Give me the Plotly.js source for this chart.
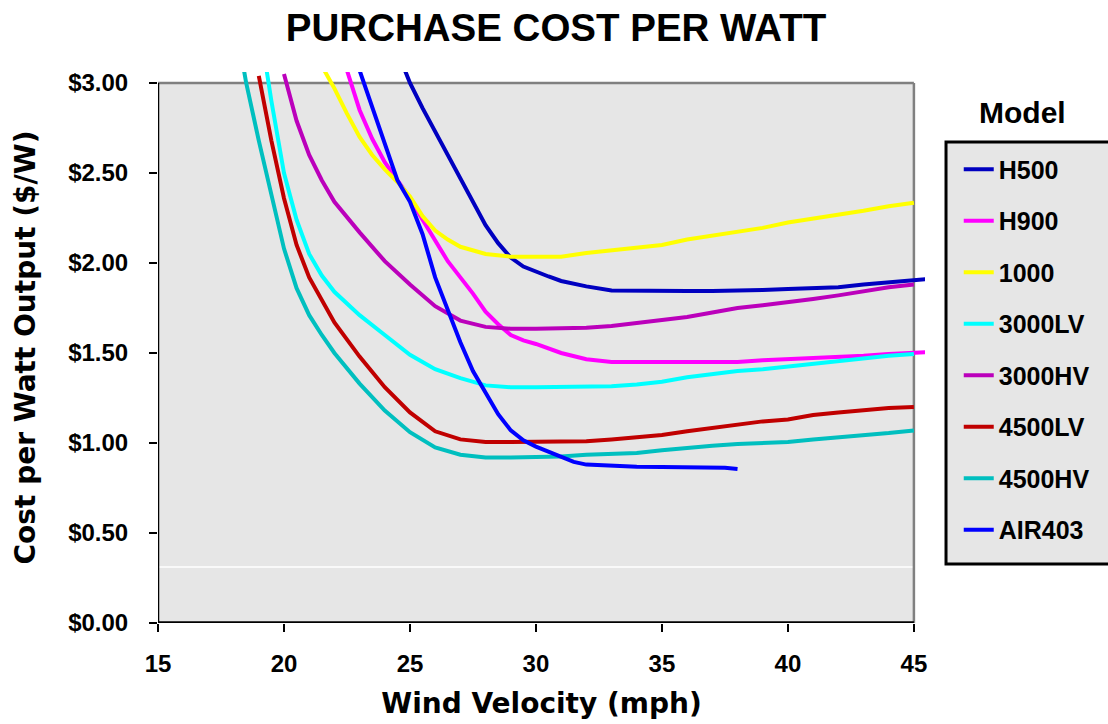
<!DOCTYPE html>
<html>
<head>
<meta charset="utf-8">
<script src="https://cdn.plot.ly/plotly-3.0.1.min.js"></script>
<style>
  html, body { margin: 0; padding: 0; background: #ffffff; }
  #chart { width: 1108px; height: 724px; }
</style>
</head>
<body>
<div id="chart"></div>
<script>
// Purchase cost per watt of output ($/W) against wind velocity (mph), per turbine model.
const modelNames = ['H500', 'H900', '1000', '3000LV', '3000HV', '4500LV', '4500HV', 'AIR403'];
const modelColors = ['#0000C0', '#FF00FF', '#FFFF00', '#00FFFF', '#BB00BB', '#C00000', '#00BFBF', '#0000FF'];

const h500X = [24.8, 25, 25.5, 26, 26.5, 27, 27.5, 28, 28.5, 29, 29.5, 30, 30.5, 31, 32, 33, 34, 35, 36, 37, 38, 39, 40, 41, 42, 43, 44, 45, 45.5];
const h500Y = [3.07, 3.00, 2.86, 2.73, 2.60, 2.46, 2.33, 2.21, 2.11, 2.03, 1.98, 1.95, 1.925, 1.90, 1.87, 1.847, 1.845, 1.845, 1.845, 1.845, 1.845, 1.85, 1.855, 1.86, 1.865, 1.88, 1.89, 1.90, 1.91];

const h900X = [22.5, 23, 23.5, 24, 24.5, 25, 25.5, 26, 26.5, 27, 27.5, 28, 28.5, 29, 29.5, 30, 31, 32, 33, 34, 35, 36, 37, 38, 39, 40, 41, 42, 43, 44, 45, 45.5];
const h900Y = [3.07, 2.85, 2.69, 2.56, 2.46, 2.36, 2.24, 2.12, 2.01, 1.92, 1.83, 1.73, 1.66, 1.60, 1.57, 1.55, 1.50, 1.465, 1.45, 1.45, 1.45, 1.45, 1.45, 1.45, 1.46, 1.465, 1.47, 1.475, 1.485, 1.495, 1.50, 1.505];

const m1000X = [21.6, 22, 22.5, 23, 23.5, 24, 24.5, 25, 25.5, 26, 26.5, 27, 28, 29, 30, 31, 32, 33, 34, 35, 36, 37, 38, 39, 40, 41, 42, 43, 44, 45];
const m1000Y = [3.07, 2.97, 2.83, 2.70, 2.60, 2.52, 2.45, 2.37, 2.26, 2.18, 2.13, 2.09, 2.05, 2.035, 2.035, 2.035, 2.055, 2.07, 2.085, 2.10, 2.13, 2.15, 2.175, 2.195, 2.225, 2.245, 2.27, 2.29, 2.315, 2.335];

const m3000lvX = [19.3, 19.5, 20, 20.5, 21, 21.5, 22, 23, 24, 25, 26, 27, 28, 29, 30, 31, 32, 33, 34, 35, 36, 37, 38, 39, 40, 41, 42, 43, 44, 45];
const m3000lvY = [3.08, 2.90, 2.50, 2.24, 2.05, 1.93, 1.84, 1.71, 1.60, 1.49, 1.41, 1.36, 1.32, 1.31, 1.31, 1.31, 1.31, 1.315, 1.325, 1.34, 1.365, 1.385, 1.40, 1.41, 1.425, 1.44, 1.46, 1.47, 1.485, 1.495];

const m3000hvX = [20, 20.5, 21, 21.5, 22, 23, 24, 25, 26, 27, 28, 29, 30, 31, 32, 33, 34, 35, 36, 37, 38, 39, 40, 41, 42, 43, 44, 45];
const m3000hvY = [3.05, 2.79, 2.60, 2.46, 2.34, 2.17, 2.01, 1.88, 1.76, 1.68, 1.645, 1.635, 1.635, 1.635, 1.64, 1.65, 1.665, 1.68, 1.70, 1.725, 1.75, 1.765, 1.78, 1.80, 1.82, 1.845, 1.865, 1.88];

const m4500lvX = [19, 19.5, 20, 20.5, 21, 21.5, 22, 23, 24, 25, 26, 27, 28, 29, 30, 31, 32, 33, 34, 35, 36, 37, 38, 39, 40, 41, 42, 43, 44, 45];
const m4500lvY = [3.04, 2.68, 2.36, 2.10, 1.92, 1.79, 1.67, 1.48, 1.31, 1.17, 1.065, 1.02, 1.005, 1.005, 1.005, 1.005, 1.01, 1.02, 1.03, 1.045, 1.065, 1.085, 1.10, 1.12, 1.13, 1.155, 1.17, 1.185, 1.195, 1.20];

const m4500hvX = [18.4, 18.5, 19, 19.5, 20, 20.5, 21, 21.5, 22, 23, 24, 25, 26, 27, 28, 29, 30, 31, 32, 33, 34, 35, 36, 37, 38, 39, 40, 41, 42, 43, 44, 45];
const m4500hvY = [3.08, 3.00, 2.68, 2.38, 2.08, 1.86, 1.71, 1.60, 1.50, 1.33, 1.18, 1.06, 0.975, 0.935, 0.92, 0.92, 0.92, 0.925, 0.935, 0.94, 0.945, 0.96, 0.975, 0.985, 0.995, 1.00, 1.005, 1.02, 1.03, 1.04, 1.055, 1.07];

const air403X = [23, 23.5, 24, 24.5, 25, 25.5, 26, 26.5, 27, 27.5, 28, 28.5, 29, 29.5, 30, 30.5, 31, 31.5, 32, 33, 34, 35, 36, 37, 37.5, 38];
const air403Y = [3.07, 2.87, 2.66, 2.46, 2.34, 2.16, 1.92, 1.74, 1.56, 1.40, 1.28, 1.16, 1.07, 1.015, 0.98, 0.95, 0.92, 0.895, 0.88, 0.872, 0.868, 0.867, 0.867, 0.866, 0.862, 0.855];

const seriesX = [h500X, h900X, m1000X, m3000lvX, m3000hvX, m4500lvX, m4500hvX, air403X];
const seriesY = [h500Y, h900Y, m1000Y, m3000lvY, m3000hvY, m4500lvY, m4500hvY, air403Y];

const xTickVals = [15, 20, 25, 30, 35, 40, 45];
const yTickVals = [0, 0.5, 1.0, 1.5, 2.0, 2.5, 3.0];
const yTickText = ['$0.00', '$0.50', '$1.00', '$1.50', '$2.00', '$2.50', '$3.00'];

const xMin = 15, xMax = 45, yMin = 0, yMax = 3.0;

const traces = modelNames.map((name, i) => ({
  type: 'scatter',
  mode: 'lines',
  name: name,
  legendgroup: name,
  x: seriesX[i],
  y: seriesY[i],
  line: { color: modelColors[i], width: 4, shape: 'linear' },
  hoverinfo: 'x+y+name'
}));

const heavy = 'DejaVu Sans, Liberation Sans, sans-serif';
const arialBold = 'Liberation Sans, Arial, sans-serif';

const layout = {
  width: 1108,
  height: 724,
  paper_bgcolor: '#ffffff',
  plot_bgcolor: '#ffffff',
  margin: { l: 158, r: 183, t: 72, b: 101, pad: 0 },
  title: {
    text: 'PURCHASE COST PER WATT',
    font: { family: arialBold, size: 38.5, weight: 700, color: '#000000' },
    x: 0.519, xanchor: 'center', xref: 'paper',
    y: 0.962, yanchor: 'middle', yref: 'container'
  },
  showlegend: true,
  legend: {
    x: 1.044, xanchor: 'left',
    y: 0.865, yanchor: 'top',
    bgcolor: 'rgba(0,0,0,0)',
    borderwidth: 0,
    font: { family: arialBold, size: 25, weight: 700, color: '#000000' },
    tracegroupgap: 16,
    itemwidth: 30,
    traceorder: 'grouped'
  },
  xaxis: {
    range: [15, 45.44],
    tickvals: xTickVals,
    ticks: 'outside', ticklen: 8, tickwidth: 2, tickcolor: '#000000',
    showline: false, showgrid: false, zeroline: false,
    ticklabelstandoff: 11,
    tickfont: { family: arialBold, size: 24, weight: 700, color: '#000000' },
    title: {
      text: 'Wind Velocity (mph)',
      font: { family: heavy, size: 28, weight: 700, color: '#000000' },
      standoff: 17
    },
    fixedrange: true
  },
  yaxis: {
    range: [0, 3.061],
    tickvals: yTickVals,
    ticktext: yTickText,
    ticks: 'outside', ticklen: 8, tickwidth: 2, tickcolor: '#000000',
    showline: false, showgrid: false, zeroline: false,
    ticklabelstandoff: 16,
    tickfont: { family: arialBold, size: 24, weight: 700, color: '#000000' },
    title: {
      text: 'Cost per Watt Output ($/W)',
      font: { family: heavy, size: 28, weight: 700, color: '#000000' },
      standoff: 24
    },
    fixedrange: true
  },
  shapes: [
    // plot area fill
    { type: 'rect', xref: 'x', yref: 'y', x0: xMin, x1: xMax, y0: yMin, y1: yMax,
      fillcolor: '#E6E6E6', line: { width: 0 }, layer: 'below' },
    // thin white rule across the lower part of the plot area
    { type: 'line', xref: 'x', yref: 'y', x0: xMin, x1: xMax, y0: 0.311, y1: 0.311,
      line: { color: '#FFFFFF', width: 1.5 }, layer: 'below' },
    // grey frame: top and right edges
    { type: 'line', xref: 'x', yref: 'y', x0: xMin, x1: xMax, y0: yMax, y1: yMax,
      line: { color: '#808080', width: 2.5 }, layer: 'below' },
    { type: 'line', xref: 'x', yref: 'y', x0: xMax, x1: xMax, y0: yMin, y1: yMax,
      line: { color: '#808080', width: 2.5 }, layer: 'below' },
    // black axes: left and bottom
    { type: 'line', xref: 'x', yref: 'y', x0: xMin, x1: xMin, y0: yMin, y1: yMax,
      line: { color: '#000000', width: 2.5 }, layer: 'below' },
    { type: 'line', xref: 'x', yref: 'y', x0: xMin, x1: xMax, y0: yMin, y1: yMin,
      line: { color: '#000000', width: 3.5 }, layer: 'above' },
    // legend box
    { type: 'rect', xref: 'paper', yref: 'paper', x0: 1.0274, x1: 1.26, y0: 0.107, y1: 0.873,
      fillcolor: '#E6E6E6', line: { color: '#000000', width: 3 }, layer: 'above' }
  ],
  annotations: [
    { text: 'Model', xref: 'paper', yref: 'paper', x: 1.1265, y: 0.927,
      xanchor: 'center', yanchor: 'middle', showarrow: false,
      font: { family: arialBold, size: 30, weight: 700, color: '#000000' } }
  ]
};

Plotly.newPlot('chart', traces, layout, { displayModeBar: false, responsive: false, staticPlot: false });
</script>
</body>
</html>
